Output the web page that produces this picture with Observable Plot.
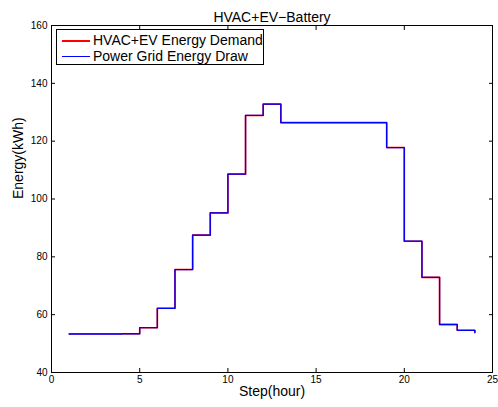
<!DOCTYPE html>
<html>
<head>
<meta charset="utf-8">
<script src="https://cdn.jsdelivr.net/npm/d3@7"></script>
<script src="https://cdn.jsdelivr.net/npm/@observablehq/plot@0.6"></script>
<style>
  html, body { margin: 0; padding: 0; background: #fff; }
  #wrap { position: relative; width: 498px; height: 407px; font-family: "Liberation Sans", Arial, Helvetica, sans-serif; }
  #legend { position: absolute; left: 56px; top: 29px; width: 206px; height: 34px; border: 1px solid #000; background: #fff; font-size: 14px; }
  .row { position: absolute; left: 0; height: 16px; line-height: 16px; white-space: nowrap; }
  .sw { position: absolute; left: 5px; top: 8px; width: 28px; height: 0; }
  .lab { position: absolute; left: 36px; top: 0; color: #000; }
</style>
</head>
<body>
<div id="wrap"></div>
<script>
const title = "HVAC+EV\u2212Battery";
const xLabel = "Step(hour)";
const yLabel = "Energy(kWh)";
const seriesNames = ["HVAC+EV Energy Demand", "Power Grid Energy Draw"];
const seriesColors = ["#ff0000", "#0000ff"];
const hours = [1,2,3,4,5,6,7,8,9,10,11,12,13,14,15,16,17,18,19,20,21,22,23,24];
const demand = [53.4,53.4,53.4,53.4,55.5,62.2,75.6,87.5,95.2,108.6,128.9,132.8,126.4,126.4,126.4,126.4,126.4,126.4,117.8,85.4,72.9,56.6,54.6,53.8];
const gridDraw = [53.3,53.3,53.3,53.4,55.5,62.2,75.6,87.5,95.2,108.6,128.9,132.8,126.4,126.4,126.4,126.4,126.4,126.4,117.8,85.4,72.9,56.6,54.6,53.8];
const xTicks = [0,5,10,15,20,25];
const yTicks = [40,60,80,100,120,140,160];

const rowsDemand = hours.map((h,i) => ({x: h, y: demand[i]}));
const rowsGrid = hours.map((h,i) => ({x: h, y: gridDraw[i]}));

const font = "Liberation Sans, Arial, Helvetica, sans-serif";
const blank = () => "";

const chart = Plot.plot({
  width: 498,
  height: 407,
  marginLeft: 51,
  marginRight: 6,
  marginTop: 25,
  marginBottom: 35,
  style: {fontFamily: font, fontSize: "10px", color: "#000", background: "#fff"},
  x: {domain: [0, 25]},
  y: {domain: [40, 160]},
  marks: [
    Plot.line(rowsDemand, {x: "x", y: "y", curve: "step-after", stroke: seriesColors[0], strokeWidth: 1.6}),
    Plot.line(rowsGrid, {x: "x", y: "y", curve: "step-after", stroke: seriesColors[1], strokeWidth: 1.3}),
    Plot.frame({stroke: "#000", strokeWidth: 1}),
    Plot.axisX({ticks: xTicks, anchor: "bottom", tickSize: 0, tickPadding: 3, label: null, fontSize: 10}),
    Plot.axisY({ticks: yTicks, anchor: "left", tickSize: 0, tickPadding: 4, label: null, fontSize: 10}),
    Plot.axisX({ticks: xTicks, anchor: "bottom", tickSize: -4, tickFormat: blank, label: null}),
    Plot.axisX({ticks: xTicks, anchor: "top", tickSize: -4, tickFormat: blank, label: null}),
    Plot.axisY({ticks: yTicks, anchor: "left", tickSize: -4, tickFormat: blank, label: null}),
    Plot.axisY({ticks: yTicks, anchor: "right", tickSize: -4, tickFormat: blank, label: null}),
    Plot.text([title], {text: d => d, frameAnchor: "top", dy: -13, fontSize: 14, fill: "#000"}),
    Plot.text([xLabel], {text: d => d, frameAnchor: "bottom", dy: 23, fontSize: 14, fill: "#000"}),
    Plot.text([yLabel], {text: d => d, frameAnchor: "left", dx: -33, rotate: -90, fontSize: 14, fill: "#000"})
  ]
});

const wrap = document.getElementById("wrap");
wrap.appendChild(chart);

const legend = document.createElement("div");
legend.id = "legend";
seriesNames.forEach((name, i) => {
  const row = document.createElement("div");
  row.className = "row";
  row.style.top = (2 + i * 16) + "px";
  const sw = document.createElement("div");
  sw.className = "sw";
  sw.style.borderTop = (i === 0 ? "2px" : "1px") + " solid " + seriesColors[i];
  const lab = document.createElement("span");
  lab.className = "lab";
  lab.textContent = name;
  row.appendChild(sw);
  row.appendChild(lab);
  legend.appendChild(row);
});
wrap.appendChild(legend);
</script>
</body>
</html>
